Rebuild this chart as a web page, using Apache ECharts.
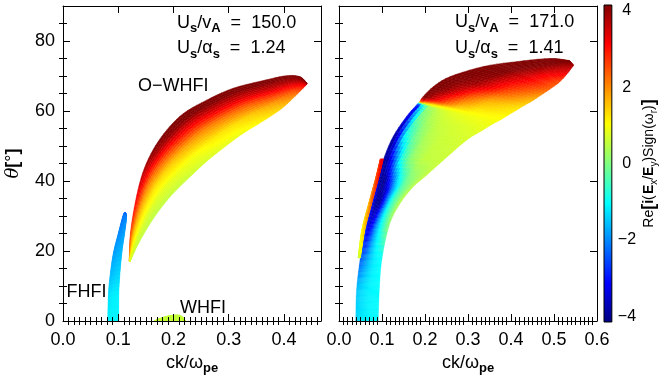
<!DOCTYPE html>
<html><head><meta charset="utf-8">
<script src="https://cdn.jsdelivr.net/npm/echarts@6/dist/echarts.min.js"></script>
<style>html,body{margin:0;padding:0;background:#fff}#c{width:660px;height:381px}</style>
</head><body><div id="c"></div>
<script>
// ================= DATA =================
// Panel 1 (Us/vA = 150.0) — O-WHFI region: cross-sections from upper edge to lower edge
const owTopK  = [0.120,0.122,0.131,0.144,0.163,0.188,0.218,0.260,0.308,0.368,0.405,0.429,0.441];
const owTopTh = [17.2, 25.0, 34.0, 42.2, 48.9, 54.6, 59.3, 63.1, 66.5, 68.9, 70.1, 69.8, 68.0];
const owBotK  = [0.121,0.138,0.165,0.195,0.228,0.260,0.290,0.325,0.360,0.395,0.420,0.437,0.442];
const owBotTh = [16.9, 22.5, 29.6, 35.7, 40.9, 45.6, 49.4, 53.5, 56.9, 60.6, 64.2, 66.9, 67.8];
const owVals  = [
  [2.2,2.0,1.6,1.2,0.9,0.7],[2.7,2.3,1.6,1.1,0.7,0.55],[3.2,2.7,1.8,1.2,0.7,0.5],
  [3.8,3.2,2.1,1.3,0.8,0.55],[4.2,3.7,2.5,1.5,0.9,0.6],[4.2,4.0,2.9,1.8,1.0,0.7],
  [4.2,4.1,3.1,2.0,1.2,0.8],[4.2,4.1,3.3,2.2,1.3,0.9],[4.2,4.1,3.4,2.4,1.5,1.1],
  [4.2,4.1,3.6,2.8,1.9,1.4],[4.2,4.1,3.8,3.2,2.5,2.0],[4.2,4.1,4.0,3.7,3.3,3.0],
  [4.1,4.1,4.0,4.0,3.9,3.8]
];
// Panel 1 — FHFI region: cross-sections from left edge to right edge
const fhLK  = [0.081,0.082,0.085,0.091,0.100,0.109,0.1125];
const fhLTh = [0.0, 7.0, 12.7, 19.3, 25.0, 30.3, 31.0];
const fhRK  = [0.101,0.101,0.103,0.107,0.112,0.115,0.1135];
const fhRTh = [0.0, 7.5, 13.5, 20.0, 25.5, 29.5, 30.8];
const fhVals = [
  [-1.2,-1.15,-1.1,-1.1,-1.1,-1.1],[-1.3,-1.25,-1.2,-1.15,-1.15,-1.15],
  [-1.6,-1.55,-1.5,-1.45,-1.4,-1.4],[-1.85,-1.8,-1.75,-1.7,-1.65,-1.6],
  [-2.0,-2.0,-1.95,-1.9,-1.85,-1.8],[-2.2,-2.2,-2.15,-2.1,-2.05,-2.0],
  [-2.3,-2.3,-2.3,-2.3,-2.3,-2.3]
];
// Panel 1 — WHFI bump: cross-sections from top curve down to θ = 0
const whK   = [0.165,0.180,0.195,0.210,0.218,0.221];
const whTop = [0.0, 1.0, 1.6, 1.7, 0.9, 0.0];
const whBot = [0, 0, 0, 0, 0, 0];
const whVals = [[0.55,0.55],[0.55,0.55],[0.55,0.55],[0.55,0.55],[0.55,0.55],[0.55,0.55]];

// Panel 2 (Us/vA = 171.0) — main region: cross-sections left/upper edge -> right/lower edge
const mTopK  = [0.039,0.041,0.049,0.060,0.076,0.084,0.091,0.103,0.126,0.157,0.181,0.188,0.195,0.219,0.258,0.336,0.413,0.491,0.536];
const mTopTh = [0.0, 8.9, 17.4, 26.0, 33.6, 37.0, 40.3, 46.0, 52.7, 58.4, 61.8, 62.7, 64.0, 66.9, 69.8, 72.7, 74.1, 75.0, 74.4];
const mBotK  = [0.091,0.094,0.100,0.117,0.142,0.173,0.204,0.243,0.297,0.335,0.360,0.374,0.388,0.420,0.452,0.490,0.514,0.533,0.546];
const mBotTh = [0.0, 10.0, 18.0, 27.5, 33.6, 38.4, 41.7, 46.0, 51.7, 54.6, 56.5, 57.4, 58.4, 60.8, 63.1, 66.2, 68.4, 71.0, 73.1];
const mVals = [
  [-1.35,-1.3,-1.25,-1.2,-1.15,-1.1,-1.1],
  [-1.5,-1.5,-1.4,-1.3,-1.2,-1.1,-1.05],
  [-2.3,-2.3,-2.1,-1.8,-1.5,-1.2,-1.0],
  [-2.6,-2.9,-3.3,-2.8,-1.9,-1.0,0.2],
  [-2.6,-3.3,-3.9,-3.9,-2.5,-0.8,0.5],
  [-2.9,-3.6,-4.0,-3.5,-2.0,-0.5,0.5],
  [-3.3,-3.9,-4.0,-2.5,-1.0,0.0,0.55],
  [-3.7,-4.0,-3.0,-0.8,0.1,0.5,0.6],
  [-3.9,-3.7,-1.1,-0.1,0.4,0.6,0.7],
  [-4.0,-2.5,-0.2,0.35,0.6,0.7,0.85],
  [-4.0,-1.5,0.2,0.6,0.8,0.9,0.95],
  [2.5,1.6,1.2,1.05,1.0,1.0,1.0],
  [4.2,4.0,3.2,2.3,1.6,1.2,1.05],
  [4.2,4.2,4.0,3.2,2.4,1.7,1.25],
  [4.2,4.2,4.1,3.9,3.3,2.5,1.6],
  [4.2,4.2,4.15,4.1,3.6,3.1,2.3],
  [4.2,4.2,4.2,4.1,3.8,3.2,2.5],
  [4.2,4.2,4.2,4.2,4.0,3.7,3.3],
  [4.2,4.2,4.2,4.2,4.1,4.0,3.9]
];
// Panel 2 — thin sliver left of the main region
const slLK  = [0.0445,0.053,0.069,0.084,0.096];
const slLTh = [18.0, 26.0, 33.6, 40.3, 46.3];
const slRK  = [0.0495,0.060,0.076,0.091,0.103];
const slRTh = [18.0, 26.0, 33.6, 40.3, 46.3];
const slVals = [[0.5,0.7],[1.0,1.5],[1.5,2.3],[2.2,2.9],[2.8,3.3]];

// Axes / ticks
const p1XMax = 0.467, p2XMax = 0.6, yMax = 90;
const p1XTicks = [0, 0.1, 0.2, 0.3, 0.4];
const p2XTicks = [0, 0.1, 0.2, 0.3, 0.4, 0.5, 0.6];
const yTicks = [0, 20, 40, 60, 80];
const cbMin = -4.15, cbMax = 4.15;
const cbTicks = [-4, -2, 0, 2, 4];
const annot1 = ['150.0', '1.24'];
const annot2 = ['171.0', '1.41'];

// ================= RENDERING =================
const FONT = "'Liberation Sans', Arial, Helvetica, sans-serif";
const F6 = [0, 0.12, 0.3, 0.5, 0.75, 1];
const F7 = [0, 0.05, 0.15, 0.3, 0.45, 0.65, 1];
const F2 = [0, 1];

function clamp(x){ return Math.max(0, Math.min(1, x)); }
function jet(v){
  const t = clamp((v - cbMin) / (cbMax - cbMin));
  const r = clamp(1.5 - Math.abs(4*t - 3)), g = clamp(1.5 - Math.abs(4*t - 2)), b = clamp(1.5 - Math.abs(4*t - 1));
  return 'rgb(' + Math.round(r*255) + ',' + Math.round(g*255) + ',' + Math.round(b*255) + ')';
}
function valAt(arr, F, f){
  for (let j = 0; j < F.length - 1; j++) {
    if (f <= F[j+1]) { const u = (f - F[j]) / (F[j+1] - F[j]); return arr[j] + (arr[j+1] - arr[j]) * u; }
  }
  return arr[arr.length - 1];
}
function minorList(max, step, skipEvery){
  const out = [];
  for (let i = 1; i * step < max - 1e-9; i++) { if (i % skipEvery !== 0) out.push(Math.round(i * step * 1000) / 1000); }
  return out;
}
// Catmull-Rom point on a boundary polyline (pixel space) between p1 and p2
function cr(p0, p1, p2, p3, s){
  const s2 = s*s, s3 = s2*s;
  const f = k => 0.5*((2*p1[k]) + (-p0[k]+p2[k])*s + (2*p0[k]-5*p1[k]+4*p2[k]-p3[k])*s2 + (-p0[k]+3*p1[k]-3*p2[k]+p3[k])*s3);
  return [f(0), f(1)];
}

function meshSeries(tk, tt, bk, bt, vals, F, xi, yi){
  const n = tk.length, data = [];
  for (let i = 0; i < n - 1; i++) data.push([i]);
  const M = 5, N = 22;
  return {
    type: 'custom', xAxisIndex: xi, yAxisIndex: yi, data: data, clip: true, silent: true, z: 2,
    renderItem: function(params, api){
      const i = params.dataIndex;
      const idx = j => Math.max(0, Math.min(n - 1, j));
      const T = [i-1, i, i+1, i+2].map(j => api.coord([tk[idx(j)], tt[idx(j)]]));
      const B = [i-1, i, i+1, i+2].map(j => api.coord([bk[idx(j)], bt[idx(j)]]));
      const tops = [], bots = [];
      for (let a = 0; a <= M; a++) { const s = a / M; tops.push(cr(T[0],T[1],T[2],T[3],s)); bots.push(cr(B[0],B[1],B[2],B[3],s)); }
      const P = (a, f) => [tops[a][0] + (bots[a][0]-tops[a][0])*f, tops[a][1] + (bots[a][1]-tops[a][1])*f];
      const children = [];
      for (let a = 0; a < M; a++) {
        const sm = (a + 0.5) / M;
        for (let b = 0; b < N; b++) {
          const f0 = b/N, f1 = (b+1)/N, fm = (f0+f1)/2;
          const v = valAt(vals[i], F, fm) * (1-sm) + valAt(vals[i+1], F, fm) * sm;
          const c = jet(v);
          children.push({ type: 'polygon', shape: { points: [P(a,f0), P(a,f1), P(a+1,f1), P(a+1,f0)] },
            style: { fill: c, stroke: c, lineWidth: 0.5 } });
        }
      }
      return { type: 'group', children: children };
    }
  };
}

const subRich = {
  n: { fontSize: 18, fontFamily: FONT, color: '#000', lineHeight: 24 },
  s: { fontSize: 13, fontFamily: FONT, color: '#000', fontWeight: 'bold', verticalAlign: 'bottom', lineHeight: 13 },
  it: { fontSize: 18, fontFamily: 'DejaVu Serif, serif', fontStyle: 'italic', color: '#000', lineHeight: 24 },
  b: { fontSize: 18, fontFamily: FONT, fontWeight: 'bold', color: '#000', lineHeight: 24 }
};

function xAxesFor(grid, max, majors){
  const common = { gridIndex: grid, type: 'value', min: 0, max: max, z: 5, splitLine: { show: false } };
  const minors = minorList(max, 0.01, 10);
  return [
    Object.assign({}, common, { position: 'bottom',
      axisLine: { show: true, onZero: false, lineStyle: { color: '#000', width: 1 } },
      axisTick: { show: true, inside: true, length: 7, customValues: majors, lineStyle: { color: '#000' } },
      axisLabel: { show: true, customValues: majors, formatter: v => Number(v).toFixed(1), margin: 10, fontSize: 18, fontFamily: FONT, color: '#000' },
      name: '{n|ck/ω}{s|pe}', nameLocation: 'middle', nameGap: 30,
      nameTextStyle: { fontSize: 18, fontFamily: FONT, color: '#000', rich: subRich } }),
    Object.assign({}, common, { position: 'bottom', axisLine: { show: false },
      axisTick: { show: true, inside: true, length: 4, customValues: minors, lineStyle: { color: '#000' } },
      axisLabel: { show: false } }),
    Object.assign({}, common, { position: 'top',
      axisLine: { show: true, onZero: false, lineStyle: { color: '#000', width: 1 } },
      axisTick: { show: true, inside: true, length: 7, customValues: majors, lineStyle: { color: '#000' } },
      axisLabel: { show: false } }),
    Object.assign({}, common, { position: 'top', axisLine: { show: false },
      axisTick: { show: true, inside: true, length: 4, customValues: minors, lineStyle: { color: '#000' } },
      axisLabel: { show: false } })
  ];
}
function yAxesFor(grid, showLabels){
  const common = { gridIndex: grid, type: 'value', min: 0, max: yMax, z: 5, splitLine: { show: false } };
  const minors = minorList(yMax, 5, 4);
  const main = Object.assign({}, common, { position: 'left',
      axisLine: { show: true, onZero: false, lineStyle: { color: '#000', width: 1 } },
      axisTick: { show: true, inside: true, length: 7, customValues: yTicks, lineStyle: { color: '#000' } },
      axisLabel: { show: showLabels, customValues: yTicks, margin: 8, fontSize: 18, fontFamily: FONT, color: '#000' } });
  if (showLabels) {
    main.name = '{it|θ}{b|[}{n|°}{b|]}'; main.nameLocation = 'middle'; main.nameGap = 38; main.nameRotate = 90;
    main.nameTextStyle = { fontSize: 18, fontFamily: FONT, color: '#000', rich: subRich };
  }
  return [
    main,
    Object.assign({}, common, { position: 'left', axisLine: { show: false },
      axisTick: { show: true, inside: true, length: 4, customValues: minors, lineStyle: { color: '#000' } },
      axisLabel: { show: false } }),
    Object.assign({}, common, { position: 'right',
      axisLine: { show: true, onZero: false, lineStyle: { color: '#000', width: 1 } },
      axisTick: { show: true, inside: true, length: 7, customValues: yTicks, lineStyle: { color: '#000' } },
      axisLabel: { show: false } }),
    Object.assign({}, common, { position: 'right', axisLine: { show: false },
      axisTick: { show: true, inside: true, length: 4, customValues: minors, lineStyle: { color: '#000' } },
      axisLabel: { show: false } })
  ];
}

const xAxes = [].concat(xAxesFor(0, p1XMax, p1XTicks), xAxesFor(1, p2XMax, p2XTicks), [
  { gridIndex: 2, type: 'value', min: 0, max: 1, show: false }
]);
const yAxes = [].concat(yAxesFor(0, true), yAxesFor(1, false), [
  { gridIndex: 2, type: 'value', min: cbMin, max: cbMax, position: 'right', z: 5,
    splitLine: { show: false }, axisLine: { show: false }, axisTick: { show: false },
    axisLabel: { show: true, customValues: cbTicks, margin: 6, fontSize: 16, fontFamily: FONT, color: '#000',
      formatter: v => (v < 0 ? '\u2212' + Math.abs(v) : ' ' + v) },
    name: 'Re{bb|[}{bi|i}(\u200a{bi|E}{s|x}/{bi|E}{s|y})Sign(ω{s|r}){bb|]}', nameLocation: 'middle', nameRotate: 90, nameGap: 26,
    nameTextStyle: { fontSize: 14, fontFamily: FONT, color: '#000', rich: {
      bb: { fontSize: 18, fontWeight: 'bold', fontFamily: FONT, color: '#000', lineHeight: 20 },
      bi: { fontSize: 14, fontWeight: 'bold', fontFamily: FONT, color: '#000', lineHeight: 20 },
      s: { fontSize: 10, fontFamily: FONT, color: '#000', verticalAlign: 'bottom', lineHeight: 10 } } } }
]);

// colorbar stops
const cbStops = [];
for (let i = 0; i <= 40; i++) { const u = i / 40; cbStops.push({ offset: u, color: jet(cbMax - u * (cbMax - cbMin)) }); }

const series = [
  meshSeries(owTopK, owTopTh, owBotK, owBotTh, owVals, F6, 0, 0),
  meshSeries(fhLK, fhLTh, fhRK, fhRTh, fhVals, F6, 0, 0),
  meshSeries(whK, whTop, whK, whBot, whVals, F2, 0, 0),
  meshSeries(mTopK, mTopTh, mBotK, mBotTh, mVals, F7, 4, 4),
  meshSeries(slLK, slLTh, slRK, slRTh, slVals, F2, 4, 4),
  { type: 'custom', xAxisIndex: 8, yAxisIndex: 8, data: [[0]], silent: true,
    renderItem: function(params, api){
      const p0 = api.coord([0, cbMax]), p1 = api.coord([1, cbMin]);
      return { type: 'rect', shape: { x: p0[0], y: p0[1], width: p1[0]-p0[0], height: p1[1]-p0[1] },
        style: { fill: { type: 'linear', x: 0, y: 0, x2: 0, y2: 1, colorStops: cbStops }, stroke: '#000', lineWidth: 1 } };
    } }
];

function annText(x, y, text){
  return { type: 'text', x: x, y: y, z: 10, silent: true,
    style: { text: text, align: 'left', verticalAlign: 'middle', fontSize: 18, fontFamily: FONT, fill: '#000', rich: subRich } };
}

const chart = echarts.init(document.getElementById('c'), null, { renderer: 'canvas' });
chart.setOption({
  animation: false,
  backgroundColor: '#fff',
  grid: [
    { left: 63, top: 6, width: 258, height: 315 },
    { left: 339, top: 6, width: 258, height: 315 },
    { left: 604, top: 5, width: 10, height: 317 }
  ],
  xAxis: xAxes,
  yAxis: yAxes,
  series: series,
  graphic: [
    annText(177, 23, '{n|U}{s|s}{n|/v}{s|A}{n|  =  ' + annot1[0] + '}'),
    annText(177, 48.5, '{n|U}{s|s}{n|/α}{s|s}{n|  =  ' + annot1[1] + '}'),
    annText(455, 22.5, '{n|U}{s|s}{n|/v}{s|A}{n|  =  ' + annot2[0] + '}'),
    annText(455, 48.5, '{n|U}{s|s}{n|/α}{s|s}{n|  =  ' + annot2[1] + '}'),
    annText(138, 86.4, '{n|O\u2212WHFI}'),
    annText(66.5, 292, '{n|FHFI}'),
    annText(180, 307.7, '{n|WHFI}')
  ]
});
</script>
</body></html>
